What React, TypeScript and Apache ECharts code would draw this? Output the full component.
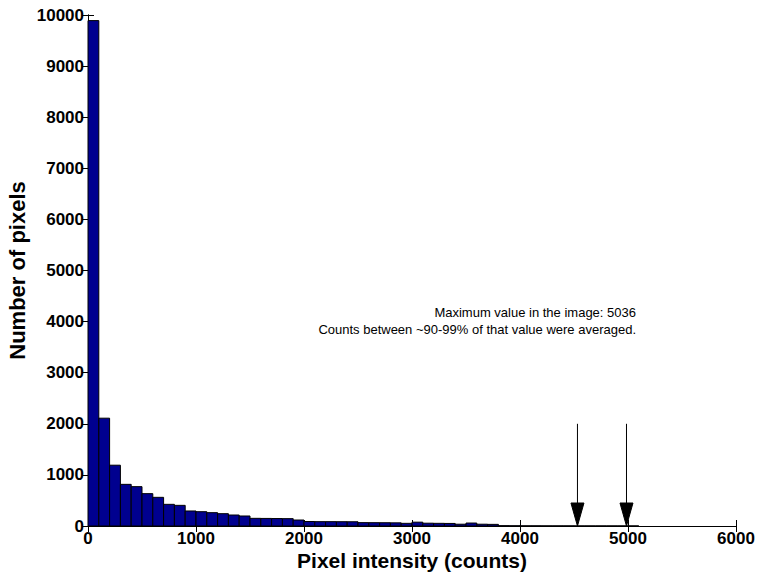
import React, { useEffect, useRef } from "react";
import * as echarts from "echarts";

// Histogram bins: width 100 counts, starting at 0
const binWidth = 100;
const binCounts = [
  9890, 2110, 1190, 815, 770, 633, 561, 424, 404, 294,
  280, 261, 241, 215, 196, 150, 148, 146, 144, 117,
  88, 85, 85, 84, 83, 66, 65, 64, 62, 52,
  75, 55, 52, 50, 35, 58, 35, 32, 6, 4,
  3, 3, 2, 2, 2, 1, 1, 1, 1, 1,
  1, 0, 0, 0, 0, 0, 0, 0, 0, 0,
];
// Arrow markers (~90% and ~99% of max value 5036)
const arrowX = [4532, 4986];
const arrowTop = 2000;
const annotationLines = [
  "Maximum value in the image: 5036",
  "Counts between ~90-99% of that value were averaged.",
];
const xTicks = { min: 0, max: 6000, interval: 1000 };
const yTicks = { min: 0, max: 10000, interval: 1000 };

const FONT = '"Liberation Sans", Arial, Helvetica, sans-serif';

export default function App() {
  const ref = useRef<HTMLDivElement>(null);
  useEffect(() => {
    if (!ref.current) return;
    const chart = echarts.init(ref.current, undefined, { renderer: "svg" });
    const barData = binCounts.map((c, i) => [i * binWidth, (i + 1) * binWidth, c]);
    const axisCommon = {
      axisLine: { show: true, lineStyle: { color: "#000", width: 1 } },
      axisTick: { show: true, inside: true, length: 6, lineStyle: { color: "#000" } },
      splitLine: { show: false },
    };
    const tickLabel = {
      color: "#000",
      fontFamily: FONT,
      fontWeight: "bold" as const,
      fontSize: 17,
      formatter: (v: number) => String(v),
    };
    chart.setOption({
      animation: false,
      backgroundColor: "#fff",
      grid: {
        left: 88,
        top: 15,
        right: 23,
        bottom: 51,
        containLabel: false,
        outerBoundsMode: "none",
      },
      xAxis: [
        {
          type: "value",
          ...xTicks,
          position: "bottom",
          ...axisCommon,
          axisLabel: { ...tickLabel, margin: 4 },
          name: "Pixel intensity (counts)",
          nameLocation: "middle",
          nameGap: 24,
          nameMoveOverlap: false,
          nameTextStyle: {
            color: "#000",
            fontFamily: FONT,
            fontWeight: "bold",
            fontSize: 21,
          },
        },
        {
          type: "value",
          ...xTicks,
          position: "top",
          ...axisCommon,
          axisLabel: { show: false },
        },
      ],
      yAxis: [
        {
          type: "value",
          ...yTicks,
          position: "left",
          ...axisCommon,
          axisLabel: { ...tickLabel, margin: 4 },
          name: "Number of pixels",
          nameLocation: "middle",
          nameGap: 60,
          nameMoveOverlap: false,
          nameTextStyle: { color: "#000", fontFamily: FONT, fontWeight: "bold", fontSize: 22 },
        },
        {
          type: "value",
          ...yTicks,
          position: "right",
          ...axisCommon,
          axisLabel: { show: false },
        },
      ],
      series: [
        {
          type: "custom",
          data: barData,
          encode: { x: [0, 1], y: 2 },
          renderItem: (params: any, api: any) => {
            const x0 = api.value(0);
            const x1 = api.value(1);
            const c = api.value(2);
            if (!c) return null;
            const p0 = api.coord([x0, c]);
            const p1 = api.coord([x1, 0]);
            return {
              type: "rect",
              shape: { x: p0[0], y: p0[1], width: p1[0] - p0[0], height: p1[1] - p0[1] },
              style: { fill: "#00008F", stroke: "#000", lineWidth: 1 },
            };
          },
        },
        {
          type: "custom",
          data: arrowX.map((x) => [x, arrowTop]),
          encode: { x: 0, y: 1 },
          clip: false,
          z: 5,
          renderItem: (params: any, api: any) => {
            const top = api.coord([api.value(0), api.value(1)]);
            const bottom = api.coord([api.value(0), 0]);
            const hw = 6.5;
            const hh = 23;
            return {
              type: "group",
              children: [
                {
                  type: "line",
                  shape: { x1: top[0], y1: top[1], x2: bottom[0], y2: bottom[1] - hh },
                  style: { stroke: "#000", lineWidth: 1 },
                },
                {
                  type: "polygon",
                  shape: {
                    points: [
                      [bottom[0] - hw, bottom[1] - hh],
                      [bottom[0] + hw, bottom[1] - hh],
                      [bottom[0], bottom[1]],
                    ],
                  },
                  style: { fill: "#000", stroke: "#000", lineWidth: 1 },
                },
              ],
            };
          },
        },
      ],
      graphic: annotationLines.map((t, i) => ({
        type: "text",
        right: 759 - 636,
        top: 306 + i * 17,
        style: {
          text: t,
          fill: "#000",
          font: `13px ${FONT}`,
          textAlign: "right",
        },
      })),
    });
    return () => chart.dispose();
  }, []);
  return (
    <div
      ref={ref}
      style={{ position: "fixed", left: 0, top: 0, width: 759, height: 577, background: "#fff" }}
    />
  );
}
